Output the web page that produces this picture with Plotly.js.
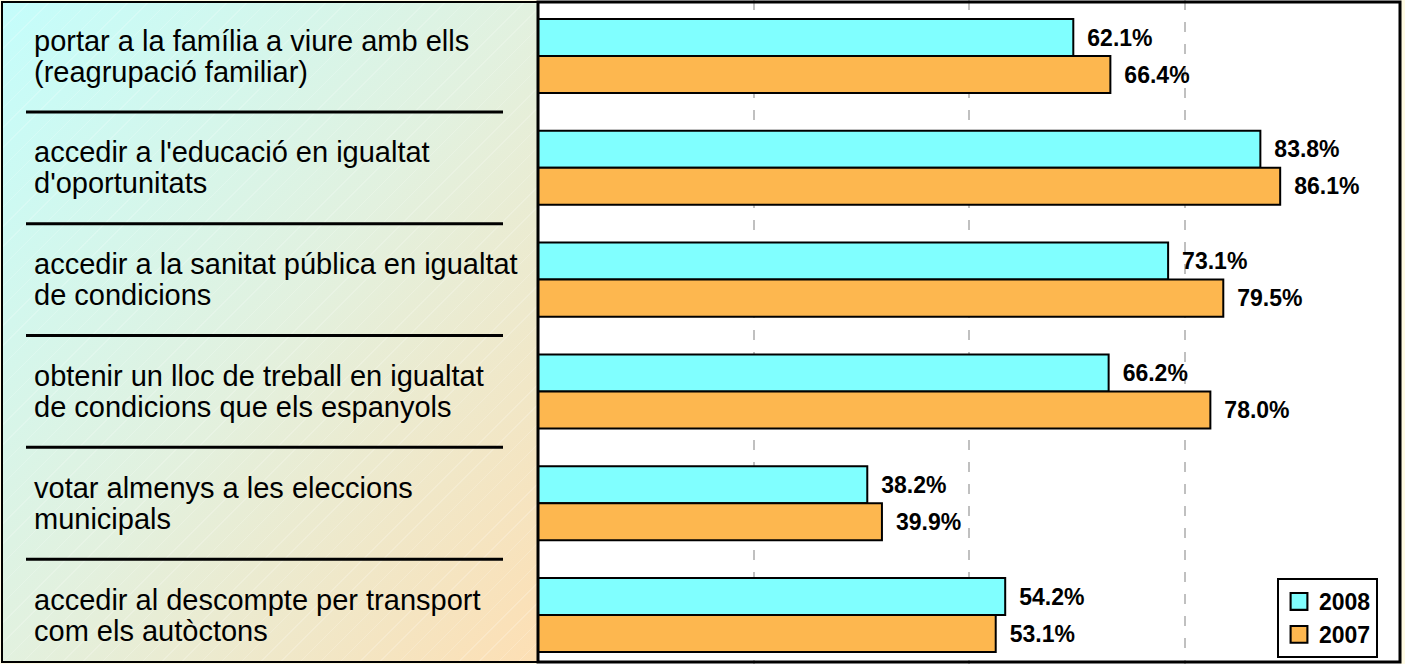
<!DOCTYPE html>
<html>
<head>
<meta charset="utf-8">
<script src="https://cdn.plot.ly/plotly-3.0.1.min.js"></script>
<style>
  html, body { margin: 0; padding: 0; background: #fffbe4; }
  #wrap { position: relative; width: 1405px; height: 664px; overflow: hidden; }
  #panel {
    position: absolute; left: 3px; top: 3px; width: 535px; height: 658px;
    background:
      repeating-linear-gradient(-45deg, rgba(255,255,255,0) 0px, rgba(255,255,255,0) 13px, rgba(255,255,255,0.2) 13px, rgba(255,255,255,0.2) 14px),
      linear-gradient(to bottom right, #c4fdfb 0%, #e2f1df 50%, #fddfb4 100%);
  }
  #chart { position: absolute; left: 0; top: 0; width: 1405px; height: 664px; }
</style>
</head>
<body>
<div id="wrap">
  <div id="panel"></div>
  <div id="chart"></div>
</div>
<script>
// ---- data ----
const categories = [
  "portar a la família a viure amb ells (reagrupació familiar)",
  "accedir a l'educació en igualtat d'oportunitats",
  "accedir a la sanitat pública en igualtat de condicions",
  "obtenir un lloc de treball en igualtat de condicions que els espanyols",
  "votar almenys a les eleccions municipals",
  "accedir al descompte per transport com els autòctons"
];
const categoryLines = [
  ["portar a la família a viure amb ells", "(reagrupació familiar)"],
  ["accedir a l'educació en igualtat", "d'oportunitats"],
  ["accedir a la sanitat pública en igualtat", "de condicions"],
  ["obtenir un lloc de treball en igualtat", "de condicions que els espanyols"],
  ["votar almenys a les eleccions", "municipals"],
  ["accedir al descompte per transport", "com els autòctons"]
];
const seriesNames = ["2008", "2007"];
const values2008 = [62.1, 83.8, 73.1, 66.2, 38.2, 54.2];
const values2007 = [66.4, 86.1, 79.5, 78.0, 39.9, 53.1];
const xTicks = [0, 25, 50, 75, 100];

// ---- layout helpers ----
const W = 1405, H = 664;
const px = v => v / W;
const py = v => 1 - v / H;
const font = 'Arial, "Liberation Sans", sans-serif';

function barTrace(name, vals, color) {
  return {
    type: 'bar', orientation: 'h', name: name,
    x: vals, y: categories,
    marker: { color: color, line: { color: '#000', width: 2 } },
    texttemplate: '\u00a0\u2009%{x:.1f}%',
    textposition: 'outside',
    constraintext: 'none',
    cliponaxis: false,
    textfont: { family: font, size: 23, color: '#000', weight: 'bold' },
    hoverinfo: 'x+name'
  };
}

const data = [
  barTrace(seriesNames[0], values2008, '#80ffff'),
  barTrace(seriesNames[1], values2007, '#fdb74f')
];

const shapes = [];
for (let i = 0; i < categories.length - 1; i++) {
  shapes.push({
    type: 'line', xref: 'paper', yref: 'y',
    x0: px(26), x1: px(503), y0: i + 0.5, y1: i + 0.5,
    line: { color: '#000', width: 3 }
  });
}
shapes.push({
  type: 'rect', xref: 'paper', yref: 'paper',
  x0: px(2), x1: px(538), y0: py(662), y1: py(2),
  line: { color: '#000', width: 2 }
});
shapes.push({
  type: 'rect', xref: 'paper', yref: 'paper',
  x0: px(538), x1: px(1400), y0: py(662), y1: py(2),
  line: { color: '#000', width: 3 }
});

const annotations = [];
categoryLines.forEach((lines, i) => {
  lines.forEach((t, j) => {
    annotations.push({
      xref: 'paper', yref: 'y', x: px(32), y: categories[i],
      yshift: j === 0 ? 15.5 : -15.5,
      text: t, showarrow: false, xanchor: 'left', yanchor: 'middle', align: 'left',
      font: { family: font, size: 29, color: '#000' }
    });
  });
});

const layout = {
  width: W, height: H,
  margin: { l: 0, r: 0, t: 0, b: 0, pad: 0 },
  paper_bgcolor: 'rgba(0,0,0,0)',
  plot_bgcolor: '#ffffff',
  barmode: 'group',
  bargap: 0.338,
  bargroupgap: 0,
  xaxis: {
    domain: [px(538), px(1400)],
    range: [0, 100],
    tickvals: xTicks,
    showticklabels: false,
    showgrid: true,
    gridcolor: '#c0c0c0',
    gridwidth: 2,
    griddash: '10px,12px',
    zeroline: false,
    showline: false,
    fixedrange: true
  },
  yaxis: {
    domain: [0, 1],
    type: 'category',
    categoryorder: 'array',
    categoryarray: categories,
    range: [5.438, -0.501],
    showticklabels: false,
    showgrid: false,
    zeroline: false,
    showline: false,
    fixedrange: true
  },
  showlegend: true,
  legend: {
    x: px(1277), y: py(578), xanchor: 'left', yanchor: 'top',
    bgcolor: '#ffffff', bordercolor: '#000', borderwidth: 2,
    font: { family: font, size: 23, color: '#000', weight: 'bold' },
    traceorder: 'normal',
    itemwidth: 30
  },
  shapes: shapes,
  annotations: annotations
};

Plotly.newPlot('chart', data, layout, { displayModeBar: false, staticPlot: true }).then(gd => {
  // enlarge legend swatches to match the reference's bigger boxes
  gd.querySelectorAll('.legendpoints path').forEach(p => {
    const t = p.getAttribute('transform') || '';
    p.setAttribute('transform', t + ' scale(1.4)');
    p.style.strokeWidth = '1.5px';
  });
});
</script>
</body>
</html>
